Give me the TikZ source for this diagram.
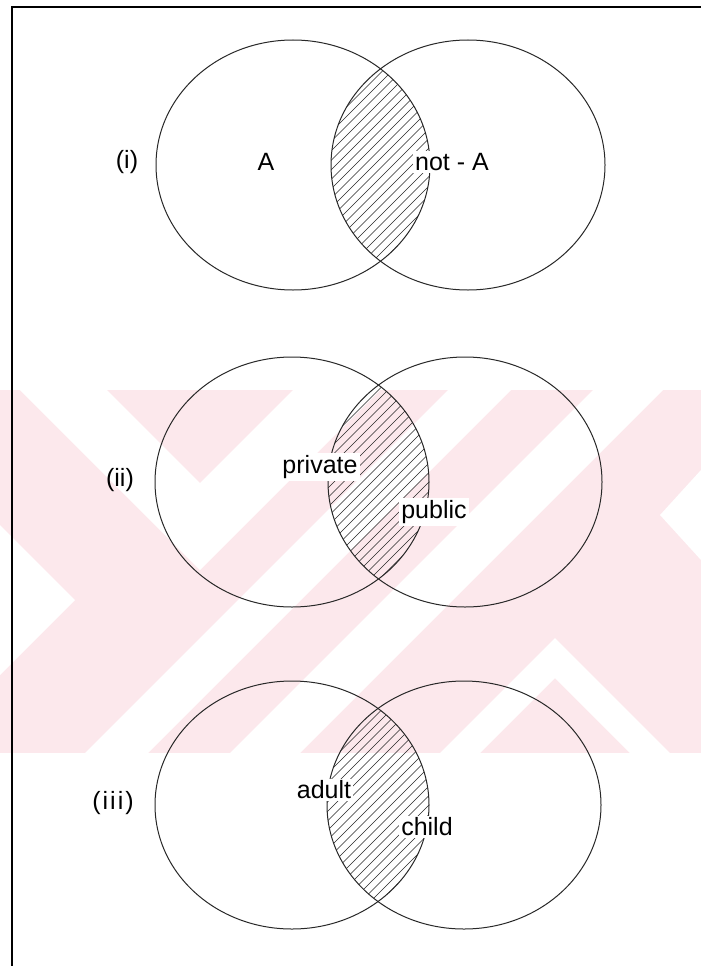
\documentclass[tikz,border=0pt]{standalone}
\usepackage{fontspec}
\setmainfont{Liberation Sans}
\definecolor{wmpink}{RGB}{252,232,236}
\definecolor{inkgray}{RGB}{40,40,40}
\begin{document}
\begin{tikzpicture}[x=1pt,y=-1pt,
  outline/.style={draw=inkgray,line width=1pt},
  hatchline/.style={draw=inkgray,line width=0.6pt},
  lbl/.style={font=\fontsize{25}{28}\selectfont,inner sep=2pt,text=black},
  inlbl/.style={lbl,fill=white},
  frameline/.style={draw=black,line width=1.6pt}]
\useasboundingbox (0,0) rectangle (701,966);
\fill[white] (0,0) rectangle (701,966);

% background stripes band
\fill[wmpink] (0,390) rectangle (701,753);
\fill[white] (20,390) -- (107,390) -- (200,483) -- (293,390) -- (380,390) -- (200,570) -- cycle;
\fill[white] (85,753) -- (148,753) -- (511,390) -- (448,390) -- cycle;
\fill[white] (230,753) -- (300,753) -- (663,390) -- (593,390) -- cycle;
\fill[white] (0,525) -- (75,600) -- (0,675) -- cycle;
\fill[white] (701,470) -- (660,515) -- (701,560) -- cycle;
\fill[white] (440,753) -- (555,638) -- (670,753) -- (630,753) -- (555,678) -- (480,753) -- cycle;

% frame
\draw[frameline] (701,7) -- (12,7) -- (12,966);

% ---------- (i) ----------
\begin{scope}
  \clip (293,165) ellipse [x radius=137, y radius=125];
  \clip (468,165) ellipse [x radius=137, y radius=125];
  \foreach \t in {-120,-110.5,...,120}
    \draw[hatchline] ({380+\t/2-160},{165+\t/2+160}) -- ({380+\t/2+160},{165+\t/2-160});
\end{scope}
\path[outline] (293,165) ellipse [x radius=137, y radius=125];
\path[outline] (468,165) ellipse [x radius=137, y radius=125];
\node[lbl] (n1) at (127,162) {(i)};
\node[lbl] (a1) at (266,162) {A};
\node[inlbl] (na1) at (452,162) {not - A};

% ---------- (ii) ----------
\begin{scope}
  \clip (292,482) ellipse [x radius=137, y radius=125];
  \clip (465,482) ellipse [x radius=137, y radius=125];
  \foreach \t in {-120,-110.5,...,120}
    \draw[hatchline] ({378+\t/2-160},{482+\t/2+160}) -- ({378+\t/2+160},{482+\t/2-160});
\end{scope}
\path[outline] (292,482) ellipse [x radius=137, y radius=125];
\path[outline] (465,482) ellipse [x radius=137, y radius=125];
\node[lbl] (n2) at (120,480) {(ii)};
\node[inlbl] (pr2) at (320,467) {private};
\node[inlbl] (pu2) at (434,512) {public};

% ---------- (iii) ----------
\begin{scope}
  \clip (292,805) ellipse [x radius=137, y radius=124];
  \clip (464,805) ellipse [x radius=137, y radius=124];
  \foreach \t in {-120,-110.5,...,120}
    \draw[hatchline] ({378+\t/2-160},{805+\t/2+160}) -- ({378+\t/2+160},{805+\t/2-160});
\end{scope}
\path[outline] (292,805) ellipse [x radius=137, y radius=124];
\path[outline] (464,805) ellipse [x radius=137, y radius=124];
\node[lbl] (n3) at (113,803) {\addfontfeature{LetterSpace=8}(iii)};
\node[inlbl] (ad3) at (324,790) {adult};
\node[inlbl] (ch3) at (427,827) {child};
\end{tikzpicture}
\end{document}
